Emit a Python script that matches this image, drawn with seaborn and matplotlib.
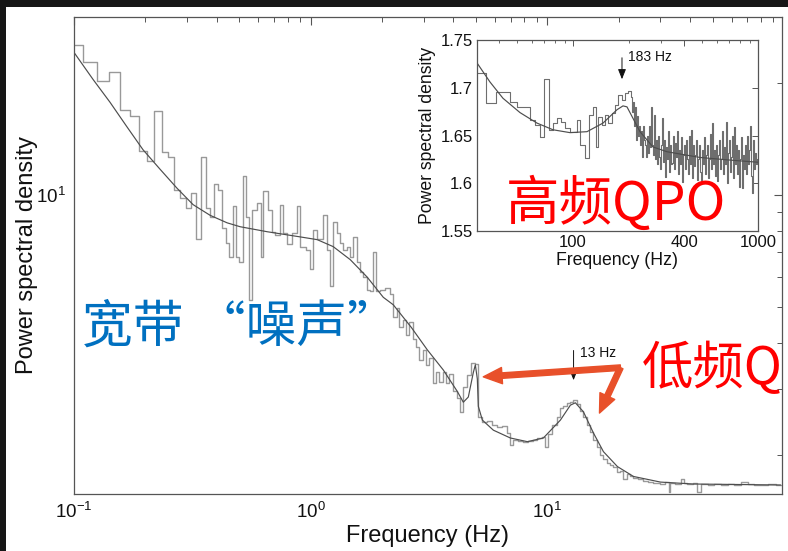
import numpy as np
import pandas as pd
import matplotlib
matplotlib.use("Agg")
import matplotlib.pyplot as plt
import seaborn as sns
from matplotlib.ticker import NullFormatter, FixedLocator, FixedFormatter
from matplotlib.patches import Rectangle

sns.set_theme(style="white")
plt.rcParams['font.family'] = ['Liberation Sans', 'Noto Sans CJK SC', 'DejaVu Sans']
plt.rcParams['mathtext.fontset'] = 'custom'
plt.rcParams['mathtext.rm'] = 'Liberation Sans'
plt.rcParams['mathtext.it'] = 'Liberation Sans:italic'
plt.rcParams['mathtext.bf'] = 'Liberation Sans:bold'

# ---------------- main power spectrum (bin left edges, Hz) ----------------
main_freq = [0.0938, 0.1094, 0.125, 0.1406, 0.1563, 0.1719, 0.1875, 0.2031, 0.2188, 0.2344,
             0.25, 0.2656, 0.2813, 0.2969, 0.3125, 0.3281, 0.3438, 0.3594, 0.375, 0.3906,
             0.4063, 0.4219, 0.4375, 0.4531, 0.4688, 0.4844, 0.5, 0.5156, 0.5313, 0.5469,
             0.5625, 0.5939, 0.6174, 0.6296, 0.6612, 0.6874, 0.7078, 0.743, 0.765, 0.7956,
             0.8351, 0.8768, 0.9028, 0.9572, 0.995, 1.0247, 1.0654, 1.1295, 1.1743, 1.209,
             1.245, 1.294, 1.3328, 1.372, 1.427, 1.469, 1.512, 1.573, 1.619, 1.667,
             1.734, 1.785, 1.838, 1.892, 1.968, 2.065, 2.169, 2.233, 2.321, 2.367,
             2.461, 2.534, 2.609, 2.713, 2.793, 2.876, 2.990, 3.078, 3.17, 3.296,
             3.394, 3.494, 3.634, 3.741, 3.852, 4.004, 4.164, 4.287, 4.414, 4.589,
             4.771, 4.962, 5.108, 5.312, 5.577, 5.854, 6.146, 6.452, 6.774, 6.975,
             7.18, 7.54, 7.915, 8.31, 8.727, 9.07, 9.526, 9.806, 10.1, 10.5,
             11.02, 11.35, 11.69, 12.15, 12.51, 12.88, 13.4, 13.79, 14.2, 14.76,
             15.2, 15.65, 16.27, 16.75, 17.25, 17.94, 18.47, 19.02, 19.77, 20.36,
             20.96, 21.79, 22.44, 23.1, 24.26, 25.47, 26.74, 28.07, 30.05, 31.55,
             32.5, 33.12, 34.77, 36.51, 37.8, 39.08, 41.43, 42.8, 44.36, 47.49,
             50.34, 53.9, 57.7, 61.2, 65.5, 70.1, 74.3, 79.6, 85.2, 92.1]
main_psd = [25.3, 22.7, 20.2, 21.3, 16.9, 16.3, 13.1, 12.3, 16.8, 13.0,
            12.6, 10.3, 9.8, 9.2, 10.1, 7.6, 12.6, 9.2, 8.7, 10.7,
            10.3, 8.15, 7.4, 6.8, 9.3, 6.8, 6.6, 11.2, 8.7, 5.2,
            9.1, 9.5, 6.8, 10.2, 9.1, 7.96, 7.8, 9.4, 7.9, 7.35,
            7.9, 9.3, 7.25, 7.1, 6.3, 8.05, 7.6, 8.8, 7.1, 5.7,
            8.45, 7.9, 7.4, 7.1, 7.25, 6.8, 7.7, 6.6, 6.2, 6.0,
            5.55, 5.5, 7.0, 5.5, 5.55, 5.6, 5.4, 4.7, 4.96, 4.4,
            4.6, 4.2, 4.55, 4.1, 3.9, 3.6, 3.83, 3.49, 3.65, 3.12,
            3.33, 3.14, 3.33, 3.12, 3.3, 2.96, 2.85, 2.6, 3.05, 3.28,
            3.53, 3.5, 2.53, 2.45, 2.47, 2.41, 2.37, 2.39, 2.29, 2.12,
            2.19, 2.18, 2.16, 2.18, 2.19, 2.22, 2.24, 2.1, 2.27, 2.41,
            2.53, 2.68, 2.7, 2.76, 2.78, 2.81, 2.74, 2.63, 2.52, 2.41,
            2.3, 2.19, 2.1, 2.0, 1.95, 1.9, 1.88, 1.85, 1.8, 1.81,
            1.72, 1.78, 1.76, 1.73, 1.72, 1.70, 1.69, 1.685, 1.675, 1.69,
            1.59, 1.68, 1.67, 1.72, 1.68, 1.67, 1.68, 1.59, 1.67, 1.66,
            1.67, 1.66, 1.67, 1.665, 1.69, 1.675, 1.66, 1.665, 1.675, 1.665]
main_freq_end = 100.0

main_model_freq = [0.1, 0.1203, 0.142, 0.1675, 0.1957, 0.231, 0.2726, 0.3185, 0.3758, 0.4435,
                   0.5033, 0.6548, 0.9028, 1.0654, 1.245, 1.469, 1.734, 2.026, 2.233, 2.661,
                   3.109, 3.634, 4.164, 4.414, 4.634, 4.866, 4.962, 5.058, 5.108, 5.312,
                   5.912, 6.975, 8.23, 9.619, 11.35, 12.51, 13.13, 14.2, 15.65, 17.25,
                   19.77, 23.1, 30.05, 41.43, 96.65]
main_model_psd = [24.1, 20.4, 17.7, 15.2, 13.2, 11.7, 10.4, 9.4, 8.8, 8.4,
                  8.2, 7.95, 7.7, 7.57, 7.25, 6.69, 6.0, 5.3, 5.06, 4.4,
                  3.83, 3.38, 2.96, 2.77, 2.86, 3.33, 3.49, 3.2, 2.7, 2.48,
                  2.33, 2.22, 2.17, 2.22, 2.48, 2.72, 2.76, 2.61, 2.29, 2.04,
                  1.86, 1.75, 1.69, 1.67, 1.66]

# ---------------- inset (high-frequency) spectrum ----------------
inset_freq = [30.28, 33.86, 38.35, 45.65, 49.8, 58.56, 62.31, 66.32, 69.7, 74.19,
              77.98, 81.94, 86.13, 90.53, 96.3, 105.1, 109.1, 116.1, 122.0, 128.3,
              133.1, 136.5, 143.5, 148.9, 154.6, 162.5, 168.7, 175.1, 184.0, 191.1,
              198.3,
              205.8, 208.4, 211.0, 213.6, 216.3, 219.0, 221.8, 224.6, 227.4, 230.2,
              233.1, 236.0, 239.0, 242.0, 245.0, 248.1, 251.2, 254.3, 257.5, 260.7,
              264.0, 267.3, 270.7, 274.1, 277.5, 281.0, 284.5, 288.1, 291.7, 295.4,
              299.1, 302.8, 306.6, 310.5, 314.4, 318.3, 322.3, 326.4, 330.5, 334.6,
              338.8, 343.1, 347.4, 351.7, 356.1, 360.6, 365.1, 369.7, 374.3, 379.0,
              383.8, 388.6, 393.5, 398.4, 403.4, 408.5, 413.6, 418.8, 424.0, 429.4,
              434.7, 440.2, 445.7, 451.3, 457.0, 462.7, 468.5, 474.4, 480.3, 486.3,
              492.4, 498.6, 504.9, 511.2, 517.6, 524.1, 530.7, 537.3, 544.0, 550.8,
              557.7, 564.7, 571.8, 579.0, 586.2, 593.6, 601.0, 608.6, 616.2, 623.9,
              631.7, 639.6, 647.6, 655.7, 664.0, 672.3, 680.7, 689.2, 697.9, 706.6,
              715.5, 724.4, 733.5, 742.7, 752.0, 761.4, 770.9, 780.6, 790.4, 800.3,
              810.3, 820.4, 830.7, 841.1, 851.6, 862.3, 873.1, 884.0, 895.1, 906.3,
              917.6, 929.1, 940.7, 952.5, 964.4, 976.5, 988.7]
inset_psd = [1.7155, 1.684, 1.6955, 1.685, 1.680, 1.666, 1.661, 1.648, 1.709, 1.656,
             1.663, 1.668, 1.664, 1.658, 1.654, 1.666, 1.640, 1.626, 1.671, 1.680,
             1.638, 1.669, 1.661, 1.671, 1.663, 1.674, 1.682, 1.692, 1.687, 1.694,
             1.697,
             1.69, 1.675, 1.685, 1.66, 1.68, 1.645, 1.67, 1.65, 1.66, 1.64,
             1.655, 1.627, 1.66, 1.645, 1.64, 1.628, 1.65, 1.632, 1.66, 1.638,
             1.68, 1.64, 1.63, 1.671, 1.625, 1.645, 1.62, 1.65, 1.628, 1.615,
             1.64, 1.668, 1.622, 1.645, 1.607, 1.638, 1.625, 1.655, 1.612, 1.64,
             1.62, 1.621, 1.65, 1.615, 1.642, 1.628, 1.655, 1.61, 1.635, 1.62,
             1.648, 1.601, 1.63, 1.64, 1.615, 1.645, 1.625, 1.61, 1.65, 1.62,
             1.656, 1.605, 1.64, 1.618, 1.63, 1.645, 1.603, 1.625, 1.64, 1.612,
             1.603, 1.635, 1.62, 1.648, 1.61, 1.63, 1.64, 1.605, 1.625, 1.652,
             1.615, 1.663, 1.62, 1.635, 1.608, 1.64, 1.602, 1.63, 1.645, 1.615,
             1.625, 1.655, 1.61, 1.638, 1.62, 1.664, 1.6, 1.632, 1.645, 1.612,
             1.628, 1.65, 1.605, 1.659, 1.62, 1.64, 1.61, 1.635, 1.596, 1.625,
             1.648, 1.595, 1.63, 1.615, 1.64, 1.61, 1.65, 1.62, 1.635, 1.66,
             1.608, 1.59, 1.645, 1.615, 1.632, 1.62, 1.625]
inset_freq_end = 1001.1

inset_model_freq = [30.28, 35.6, 41.83, 51.7, 63.88, 77.98, 96.3, 119.0, 145.3, 172.9,
                    186.3, 195.8, 211.0, 230.2, 270.6, 322.2, 485.9, 732.5, 1000.0]
inset_model_psd = [1.726, 1.706, 1.689, 1.674, 1.663, 1.656, 1.653, 1.654, 1.663, 1.677,
                   1.681, 1.680, 1.668, 1.654, 1.638, 1.633, 1.627, 1.624, 1.622]

inset_xticks = [100, 400, 1000]
inset_xticklabels = ["100", "400", "1000"]
inset_yticks = [1.55, 1.6, 1.65, 1.7, 1.75]
inset_yticklabels = ["1.55", "1.6", "1.65", "1.7", "1.75"]

# ---------------- figure ----------------
W, H = 788, 551
fig = plt.figure(figsize=(W / 100, H / 100), dpi=100, facecolor='#161616')
fig.patches.append(Rectangle((6 / W, 0), 1, 544 / H, transform=fig.transFigure,
                             facecolor='white', edgecolor='none', zorder=-5))

step_color = '#999999'
model_color = '#4d4d4d'
spine_color = '#555555'

ax = fig.add_axes([74 / W, 1 - 494 / H, (782 - 74) / W, (494 - 17) / H])
main_df = pd.DataFrame({"freq": main_freq + [main_freq_end],
                        "psd": main_psd + [main_psd[-1]]})
model_df = pd.DataFrame({"freq": main_model_freq, "psd": main_model_psd})
sns.lineplot(data=main_df, x="freq", y="psd", ax=ax, drawstyle='steps-post',
             estimator=None, sort=False, color=step_color, lw=1.0)
sns.lineplot(data=model_df, x="freq", y="psd", ax=ax, estimator=None, sort=False,
             color=model_color, lw=0.85)
ax.set_xscale('log')
ax.set_yscale('log')
ax.set_xlim(0.1, 98)
ax.set_ylim(1.57, 30)
ax.xaxis.set_minor_formatter(NullFormatter())
ax.yaxis.set_minor_formatter(NullFormatter())
ax.set_xlabel("Frequency (Hz)", fontsize=17, color='#111111', labelpad=2)
ax.set_ylabel("Power spectral density", fontsize=17, color='#111111', labelpad=-1.5)
ax.tick_params(which='both', direction='in', top=True, right=True, color=spine_color,
               labelcolor='#111111', labelsize=13.5)
ax.tick_params(which='major', length=6, width=0.8, pad=6)
ax.tick_params(which='minor', length=3.5, width=0.7)
for s in ax.spines.values():
    s.set_color(spine_color)
    s.set_linewidth(0.9)
ax.set_facecolor('white')

# 13 Hz marker
ax.annotate("", xy=(12.9, 3.12), xytext=(12.9, 3.88),
            arrowprops=dict(arrowstyle='-|>,head_length=0.5,head_width=0.2', color='#111111', lw=0.7))
ax.text(13.79, 3.76, "13 Hz", fontsize=10, color='#111111', ha='left', va='center')

# red arrows
red = '#E8502A'
for tip in [(5.36, 3.24), (16.6, 2.59)]:
    ax.annotate("", xy=tip, xytext=(20.36, 3.43),
                arrowprops=dict(arrowstyle='simple,head_length=0.75,head_width=0.65,tail_width=0.22',
                                color=red, mutation_scale=18, shrinkA=0, shrinkB=0))

cjk = ['Noto Sans CJK SC', 'DejaVu Sans']
ax.text(0.1081, 4.39, "宽带 “噪声”", fontsize=36.5, color='#0070C0', ha='left', va='center',
        family=cjk)

# ---------------- inset ----------------
axi = fig.add_axes([477 / W, 1 - 231 / H, (758 - 477) / W, (231 - 40) / H])
inset_df = pd.DataFrame({"freq": inset_freq + [inset_freq_end],
                         "psd": inset_psd + [inset_psd[-1]]})
inset_model_df = pd.DataFrame({"freq": inset_model_freq, "psd": inset_model_psd})
sns.lineplot(data=inset_df, x="freq", y="psd", ax=axi, drawstyle='steps-post',
             estimator=None, sort=False, color='#6e6e6e', lw=0.8)
sns.lineplot(data=inset_model_df, x="freq", y="psd", ax=axi, estimator=None, sort=False,
             color=model_color, lw=0.85)
axi.set_xscale('log')
axi.set_xlim(30.28, 1000)
axi.set_ylim(1.55, 1.75)
axi.xaxis.set_major_locator(FixedLocator(inset_xticks))
axi.xaxis.set_major_formatter(FixedFormatter(inset_xticklabels))
axi.xaxis.set_minor_formatter(NullFormatter())
axi.yaxis.set_major_locator(FixedLocator(inset_yticks))
axi.yaxis.set_major_formatter(FixedFormatter(inset_yticklabels))
axi.set_xlabel("Frequency (Hz)", fontsize=12.7, color='#111111', labelpad=1)
axi.set_ylabel("Power spectral density", fontsize=12.7, color='#111111', labelpad=3)
axi.tick_params(which='both', direction='in', top=True, right=True, color=spine_color,
                labelcolor='#111111', labelsize=12)
axi.tick_params(which='major', length=4, width=0.7, pad=3)
axi.tick_params(which='minor', length=2.5, width=0.6)
for s in axi.spines.values():
    s.set_color(spine_color)
    s.set_linewidth(0.9)
axi.set_facecolor('white')

axi.annotate("", xy=(184, 1.706), xytext=(184, 1.7343),
             arrowprops=dict(arrowstyle='-|>,head_length=0.5,head_width=0.2', color='#111111', lw=0.7))
axi.text(198, 1.732, "183 Hz", fontsize=10, color='#111111', ha='left', va='center')

# ---------------- slide annotations ----------------
fig.text(506 / W, 1 - 204 / H, "高频QPO", fontsize=38.5, color='#FF0000', ha='left',
         va='center', family=cjk)
fig.text(642 / W, 1 - 369 / H, "低频Q", fontsize=37, color='#FF0000', ha='left',
         va='center', family=cjk)

fig.savefig("out.png", dpi=100, facecolor=fig.get_facecolor())
